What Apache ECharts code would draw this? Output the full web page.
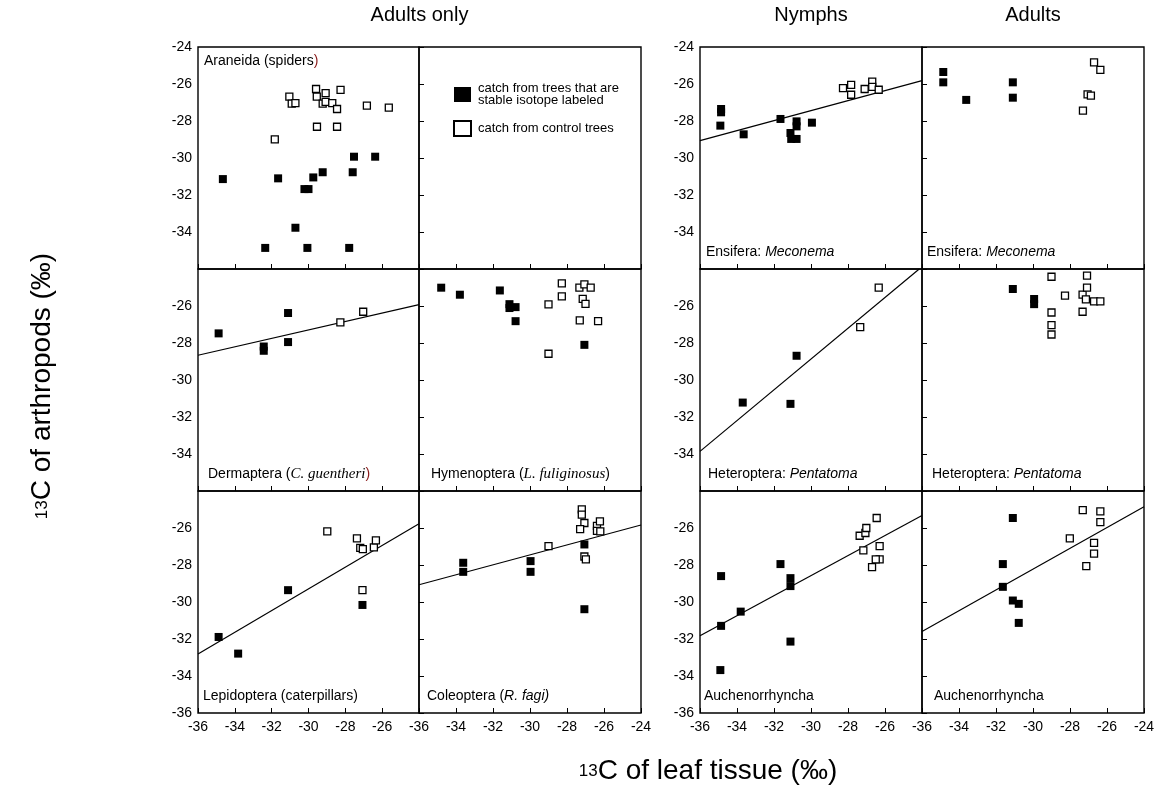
<!DOCTYPE html>
<html>
<head>
<meta charset="utf-8">
<script src="https://cdn.jsdelivr.net/npm/echarts@6/dist/echarts.min.js"></script>
<style>html,body{margin:0;padding:0;background:#fff}#c{width:1158px;height:791px}</style>
</head>
<body>
<div id="c"></div>
<script>
// ---------- axis settings ----------
const axisMin = -36, axisMax = -24, axisStep = 2;
const blockTitles = ['Adults only', 'Nymphs', 'Adults'];
const xTitle = 'C of leaf tissue (‰)';
const yTitle = 'C of arthropods (‰)';
const isoPrefix = '13';
const legendFilled = 'catch from trees that are\nstable isotope labeled';
const legendOpen = 'catch from control trees';

// ---------- data (x = leaf δ13C, y = arthropod δ13C) ----------
const araneidaFilled = [[-34.65,-31.14],[-31.65,-31.1],[-32.35,-34.86],[-30.71,-33.77],[-30.22,-31.68],[-30.0,-31.68],[-29.74,-31.05],[-29.23,-30.77],[-30.06,-34.86],[-27.79,-34.86],[-27.53,-29.93],[-26.38,-29.93],[-27.6,-30.77]];
const araneidaOpen = [[-31.83,-28.99],[-31.04,-26.68],[-30.91,-27.06],[-30.71,-27.03],[-29.59,-26.27],[-29.55,-26.68],[-29.07,-26.49],[-29.23,-27.06],[-29.07,-26.97],[-28.71,-27.03],[-28.45,-27.35],[-28.26,-26.32],[-29.54,-28.31],[-28.45,-28.31],[-26.83,-27.17],[-25.64,-27.28]];

const ensiferaNymphFilled = [[-34.86,-27.35],[-34.86,-27.53],[-34.9,-28.25],[-33.64,-28.72],[-31.65,-27.89],[-31.11,-28.65],[-31.07,-28.97],[-30.78,-28.97],[-30.78,-28.02],[-30.78,-28.29],[-29.95,-28.09]];
const ensiferaNymphOpen = [[-28.27,-26.22],[-27.83,-26.05],[-27.83,-26.58],[-27.1,-26.27],[-26.69,-25.87],[-26.69,-26.16],[-26.34,-26.31]];
const ensiferaNymphFit = [[-36,-29.06],[-24,-25.82]];

const ensiferaAdultFilled = [[-34.85,-25.35],[-34.85,-25.91],[-33.61,-26.86],[-31.09,-25.91],[-31.09,-26.74]];
const ensiferaAdultOpen = [[-26.7,-24.83],[-26.36,-25.24],[-27.05,-26.56],[-26.87,-26.63],[-27.3,-27.44]];

const dermapteraFilled = [[-34.88,-27.48],[-32.43,-28.19],[-32.43,-28.42],[-31.11,-26.38],[-31.11,-27.95]];
const dermapteraOpen = [[-28.27,-26.89],[-27.03,-26.31]];
const dermapteraFit = [[-36,-28.66],[-24,-25.93]];

const hymenopteraFilled = [[-34.8,-25.01],[-33.79,-25.39],[-31.63,-25.16],[-31.11,-25.9],[-31.11,-26.11],[-30.78,-26.06],[-30.78,-26.82],[-27.06,-28.1]];
const hymenopteraOpen = [[-29.0,-25.91],[-28.28,-24.78],[-28.28,-25.48],[-29.0,-28.58],[-27.33,-25.01],[-27.06,-24.83],[-26.72,-25.01],[-27.15,-25.62],[-27.0,-25.88],[-27.31,-26.78],[-26.32,-26.82]];

const heteropteraNymphFilled = [[-33.69,-31.22],[-31.11,-31.29],[-30.78,-28.69]];
const heteropteraNymphOpen = [[-27.34,-27.14],[-26.34,-25.01]];
const heteropteraNymphFit = [[-36,-33.86],[-24.15,-24.0]];

const heteropteraAdultFilled = [[-31.09,-25.08],[-29.94,-25.62],[-29.94,-25.9]];
const heteropteraAdultOpen = [[-29.0,-24.42],[-29.0,-26.35],[-29.0,-27.03],[-29.0,-27.54],[-28.27,-25.44],[-27.32,-25.38],[-27.32,-26.31],[-27.08,-24.36],[-27.08,-25.01],[-27.14,-25.64],[-26.7,-25.75],[-26.36,-25.75]];

const lepidopteraFilled = [[-34.88,-31.89],[-33.82,-32.79],[-31.11,-29.36],[-27.07,-30.16]];
const lepidopteraOpen = [[-28.98,-26.18],[-27.37,-26.56],[-27.19,-27.07],[-27.05,-27.14],[-26.45,-27.05],[-26.34,-26.67],[-27.07,-29.36]];
const lepidopteraFit = [[-36,-32.81],[-24,-25.77]];

const coleopteraFilled = [[-33.61,-27.88],[-33.61,-28.37],[-29.97,-27.79],[-29.97,-28.37],[-27.06,-26.89],[-27.06,-30.39]];
const coleopteraOpen = [[-29.0,-26.98],[-27.2,-24.99],[-27.2,-25.28],[-27.06,-25.73],[-27.29,-26.06],[-27.06,-27.54],[-26.98,-27.7],[-26.38,-25.88],[-26.22,-25.64],[-26.38,-26.15],[-26.2,-26.18]];
const coleopteraFit = [[-36,-29.07],[-24,-25.84]];

const auchenNymphFilled = [[-34.86,-28.6],[-34.86,-31.29],[-34.9,-33.68],[-33.8,-30.52],[-31.65,-27.95],[-31.11,-28.71],[-31.11,-29.14],[-31.11,-32.14]];
const auchenNymphOpen = [[-27.37,-26.42],[-27.17,-27.21],[-27.06,-26.27],[-27.01,-26.0],[-26.45,-25.46],[-26.29,-26.98],[-26.29,-27.7],[-26.5,-27.7],[-26.7,-28.12]];
const auchenNymphFit = [[-36,-31.82],[-24,-25.32]];

const auchenAdultFilled = [[-31.09,-25.46],[-31.63,-27.95],[-31.63,-29.18],[-31.09,-29.92],[-30.77,-30.1],[-30.77,-31.13]];
const auchenAdultOpen = [[-27.31,-25.03],[-26.36,-25.1],[-26.36,-25.68],[-28.01,-26.56],[-26.7,-26.8],[-26.7,-27.39],[-27.12,-28.06]];
const auchenAdultFit = [[-36,-31.6],[-24,-24.85]];

// ---------- panel definitions ----------
const panels = [
  {row:0,col:0,filled:araneidaFilled,open:araneidaOpen,fit:null,label:'{n|Araneida (spiders}{r|)}',top:true},
  {row:0,col:1,filled:[],open:[],fit:null,label:null},
  {row:0,col:2,filled:ensiferaNymphFilled,open:ensiferaNymphOpen,fit:ensiferaNymphFit,label:'{n|Ensifera: }{i|Meconema}'},
  {row:0,col:3,filled:ensiferaAdultFilled,open:ensiferaAdultOpen,fit:null,label:'{n|Ensifera: }{i|Meconema}'},
  {row:1,col:0,filled:dermapteraFilled,open:dermapteraOpen,fit:dermapteraFit,label:'{n|Dermaptera (}{s|C. guentheri}{r|)}'},
  {row:1,col:1,filled:hymenopteraFilled,open:hymenopteraOpen,fit:null,label:'{n|Hymenoptera (}{s|L. fuliginosus}{n|)}'},
  {row:1,col:2,filled:heteropteraNymphFilled,open:heteropteraNymphOpen,fit:heteropteraNymphFit,label:'{n|Heteroptera: }{i|Pentatoma}'},
  {row:1,col:3,filled:heteropteraAdultFilled,open:heteropteraAdultOpen,fit:null,label:'{n|Heteroptera: }{i|Pentatoma}'},
  {row:2,col:0,filled:lepidopteraFilled,open:lepidopteraOpen,fit:lepidopteraFit,label:'{n|Lepidoptera (caterpillars)}'},
  {row:2,col:1,filled:coleopteraFilled,open:coleopteraOpen,fit:coleopteraFit,label:'{n|Coleoptera (}{i|R. fagi)}'},
  {row:2,col:2,filled:auchenNymphFilled,open:auchenNymphOpen,fit:auchenNymphFit,label:'{n|Auchenorrhyncha}'},
  {row:2,col:3,filled:auchenAdultFilled,open:auchenAdultOpen,fit:auchenAdultFit,label:'{n|Auchenorrhyncha}'}
];

// ---------- layout ----------
const colLeft = [198, 419, 700, 922];
const colWidth = [221, 222, 222, 222];
const rowTop = [47, 269, 491];
const rowH = 222;
const labelDx = [[6,0,6,5],[10,12,8,10],[5,8,4,12]];
const FONT = '"Liberation Sans", Arial, Helvetica, sans-serif';
const SERIF = '"Liberation Serif", "Times New Roman", serif';

const grids = [], xAxes = [], yAxes = [], series = [], graphics = [];
panels.forEach((p, i) => {
  grids.push({left: colLeft[p.col], top: rowTop[p.row], width: colWidth[p.col], height: rowH,
    show: true, borderColor: '#000', borderWidth: 1.4, backgroundColor: 'transparent'});
  const bottomRow = p.row === 2;
  const firstCol = p.col === 0 || p.col === 2;
  xAxes.push({type:'value', gridIndex:i, min:axisMin, max:axisMax, interval:axisStep,
    axisLine:{show:false}, splitLine:{show:false},
    axisTick:{show:true, inside:true, length:5, lineStyle:{color:'#000', width:1}},
    axisLabel:{show:bottomRow, showMaxLabel: !firstCol, showMinLabel:true, margin:7,
      color:'#000', fontSize:14, fontFamily:FONT}});
  yAxes.push({type:'value', gridIndex:i, min:axisMin, max:axisMax, interval:axisStep,
    axisLine:{show:false}, splitLine:{show:false},
    axisTick:{show:!firstCol, inside:true, length:5, lineStyle:{color:'#000', width:1}},
    axisLabel:{show:firstCol, showMaxLabel: p.row === 0, showMinLabel: p.row === 2, margin:6,
      color:'#000', fontSize:14, fontFamily:FONT}});
  if (p.fit) {
    series.push({type:'line', xAxisIndex:i, yAxisIndex:i, data:p.fit, showSymbol:false, symbol:'none',
      lineStyle:{color:'#000', width:1.2}, silent:true, z:1, clip:true});
  }
  series.push({name:legendFilled, type:'scatter', xAxisIndex:i, yAxisIndex:i, data:p.filled,
    symbol:'rect', symbolSize:8, itemStyle:{color:'#000', opacity:1}, z:3});
  series.push({name:legendOpen, type:'scatter', xAxisIndex:i, yAxisIndex:i, data:p.open,
    symbol:'rect', symbolSize:7, itemStyle:{color:'#fff', borderColor:'#000', borderWidth:1.3, opacity:1}, z:4});
  if (p.label) {
    const x = colLeft[p.col] + labelDx[p.row][p.col];
    const y = p.top ? rowTop[p.row] + 14 : rowTop[p.row] + rowH - 17;
    graphics.push({type:'text', x:x, y:y, z:10, style:{text:p.label, verticalAlign:'middle', align:'left',
      rich:{
        n:{fontSize:14, fontFamily:FONT, fill:'#000', color:'#000'},
        i:{fontSize:14, fontFamily:FONT, fontStyle:'italic', fill:'#000', color:'#000'},
        s:{fontSize:15, fontFamily:SERIF, fontStyle:'italic', fill:'#000', color:'#000'},
        r:{fontSize:14, fontFamily:FONT, fill:'#8b1a1a', color:'#8b1a1a'}
      }}});
  }
});

// block titles
const titleX = [(colLeft[0] + colLeft[1] + colWidth[1]) / 2, colLeft[2] + colWidth[2] / 2, colLeft[3] + colWidth[3] / 2];
blockTitles.forEach((t, k) => {
  graphics.push({type:'text', x:titleX[k], y:15, style:{text:t, align:'center', verticalAlign:'middle',
    font:'20px ' + FONT, fill:'#000'}});
});
// axis titles
const supRich = {
  s:{fontSize:17, fontFamily:FONT, fill:'#000', color:'#000', verticalAlign:'middle'},
  b:{fontSize:28, fontFamily:FONT, fill:'#000', color:'#000'}
};
graphics.push({type:'text', x:708, y:771, style:{text:'{s|' + isoPrefix + '}{b|' + xTitle + '}',
  align:'center', verticalAlign:'middle', rich:supRich}});
graphics.push({type:'text', x:42, y:386, rotation:Math.PI/2, style:{text:'{s|' + isoPrefix + '}{b|' + yTitle + '}',
  align:'center', verticalAlign:'middle', rich:supRich}});

const chart = echarts.init(document.getElementById('c'), null, {renderer:'canvas'});
chart.setOption({
  animation:false,
  backgroundColor:'#fff',
  grid:grids, xAxis:xAxes, yAxis:yAxes, series:series,
  legend:{orient:'vertical', left:448, top:77, itemWidth:17, itemHeight:15, itemGap:13,
    selectedMode:false, data:[legendFilled, legendOpen],
    textStyle:{fontSize:13, lineHeight:12, fontFamily:FONT, color:'#000', padding:[0,0,0,2]}},
  graphic:graphics
});
</script>
</body>
</html>
